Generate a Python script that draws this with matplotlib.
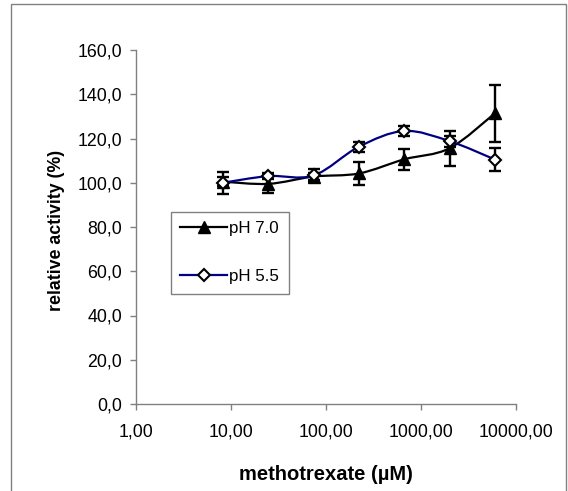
import numpy as np
import matplotlib
matplotlib.use("Agg")
import matplotlib.pyplot as plt
from matplotlib.path import Path
from matplotlib.patches import PathPatch, Rectangle
from matplotlib.lines import Line2D
from matplotlib.ticker import FixedLocator, FixedFormatter, NullLocator

plt.rcParams['font.family'] = ['Liberation Sans', 'DejaVu Sans']

# ---- data ----
conc = [8.23, 24.7, 74.1, 222.2, 666.7, 2000.0, 6000.0]
ph70 = [100.5, 99.5, 102.8, 104.2, 110.6, 115.6, 131.4]
ph70_err = [2.0, 4.2, 1.5, 5.3, 4.8, 8.0, 13.0]
ph55 = [100.0, 103.0, 103.3, 116.3, 123.4, 118.8, 110.5]
ph55_err = [5.0, 1.5, 3.0, 2.3, 2.3, 2.5, 5.2]
xticks = [1, 10, 100, 1000, 10000]
xticklabels = ["1,00", "10,00", "100,00", "1000,00", "10000,00"]
yticks = [0, 20, 40, 60, 80, 100, 120, 140, 160]
yticklabels = ["0,0", "20,0", "40,0", "60,0", "80,0", "100,0", "120,0", "140,0", "160,0"]

W, H = 568, 491
fig = plt.figure(figsize=(W / 100, H / 100), dpi=100)
ax = fig.add_axes([136 / W, 1 - 404 / H, (516 - 136) / W, (404 - 50) / H])

# outer frame (bottom edge lies below the image)
fig.patches.append(Rectangle((11 / W, -0.05), (566 - 11) / W, 1.05 - 4 / H,
                             transform=fig.transFigure, fill=False,
                             edgecolor='#808080', linewidth=1.0))


def smooth_path(xs, ys):
    lx = np.log10(xs)
    ys = np.asarray(ys, float)
    n = len(lx)
    verts = [(xs[0], ys[0])]
    codes = [Path.MOVETO]
    for i in range(n - 1):
        i0 = max(i - 1, 0)
        i3 = min(i + 2, n - 1)
        c1x = lx[i] + (lx[i + 1] - lx[i0]) / 6
        c1y = ys[i] + (ys[i + 1] - ys[i0]) / 6
        c2x = lx[i + 1] - (lx[i3] - lx[i]) / 6
        c2y = ys[i + 1] - (ys[i3] - ys[i]) / 6
        verts += [(10 ** c1x, c1y), (10 ** c2x, c2y), (xs[i + 1], ys[i + 1])]
        codes += [Path.CURVE4] * 3
    return Path(verts, codes)


ax.set_xscale('log')
ax.set_xlim(1, 10000)
ax.set_ylim(0, 160)

# pH 7.0
ax.add_patch(PathPatch(smooth_path(conc, ph70), fill=False, edgecolor='black',
                       linewidth=1.6, zorder=3))
ax.errorbar(conc, ph70, yerr=ph70_err, fmt='none', ecolor='black',
            elinewidth=1.7, capsize=4.2, capthick=1.7, zorder=4)
ax.plot(conc, ph70, linestyle='none', marker='^', markersize=8,
        markerfacecolor='black', markeredgecolor='black', zorder=5)

# pH 5.5
ax.add_patch(PathPatch(smooth_path(conc, ph55), fill=False, edgecolor='#000080',
                       linewidth=1.6, zorder=3))
ax.errorbar(conc, ph55, yerr=ph55_err, fmt='none', ecolor='black',
            elinewidth=1.7, capsize=4.2, capthick=1.7, zorder=4)
ax.plot(conc, ph55, linestyle='none', marker='D', markersize=6.5,
        markerfacecolor='white', markeredgecolor='black', markeredgewidth=1.5,
        zorder=6)

# axes styling
for s in ['top', 'right']:
    ax.spines[s].set_visible(False)
for s in ['left', 'bottom']:
    ax.spines[s].set_color('#808080')
    ax.spines[s].set_linewidth(1.0)

ax.xaxis.set_major_locator(FixedLocator(xticks))
ax.xaxis.set_major_formatter(FixedFormatter(xticklabels))
ax.xaxis.set_minor_locator(NullLocator())
ax.yaxis.set_major_locator(FixedLocator(yticks))
ax.yaxis.set_major_formatter(FixedFormatter(yticklabels))
ax.tick_params(axis='both', direction='out', length=4, width=1.0,
               color='#808080', labelsize=12.8, labelcolor='black')
ax.tick_params(axis='x', pad=10)
ax.tick_params(axis='y', pad=6)

ax.set_xlabel("methotrexate (\u00b5M)", fontsize=14.5, fontweight='bold')
ax.xaxis.set_label_coords(0.5, -0.2)
ax.xaxis.label.set_va('center')
ax.set_ylabel("relative activity (%)", fontsize=12.8, fontweight='bold')
ax.yaxis.set_label_coords(-0.208, 0.489)
ax.yaxis.label.set_va('center')

handles = [
    Line2D([], [], color='black', linewidth=1.6, marker='^', markersize=8,
           markerfacecolor='black', markeredgecolor='black'),
    Line2D([], [], color='#000080', linewidth=1.6, marker='D', markersize=6.5,
           markerfacecolor='white', markeredgecolor='black', markeredgewidth=1.5),
]
leg = fig.legend(handles, ["pH 7.0", "pH 5.5"], loc='upper left',
                 bbox_to_anchor=(171 / W, 1 - 212 / H), fontsize=12.2,
                 frameon=True, fancybox=False, framealpha=1,
                 edgecolor='#808080', handlelength=2.75, handletextpad=0.15,
                 labelspacing=1.95, borderpad=0.55, borderaxespad=0)
leg.get_frame().set_linewidth(1.0)

fig.savefig("out.png", dpi=100)
